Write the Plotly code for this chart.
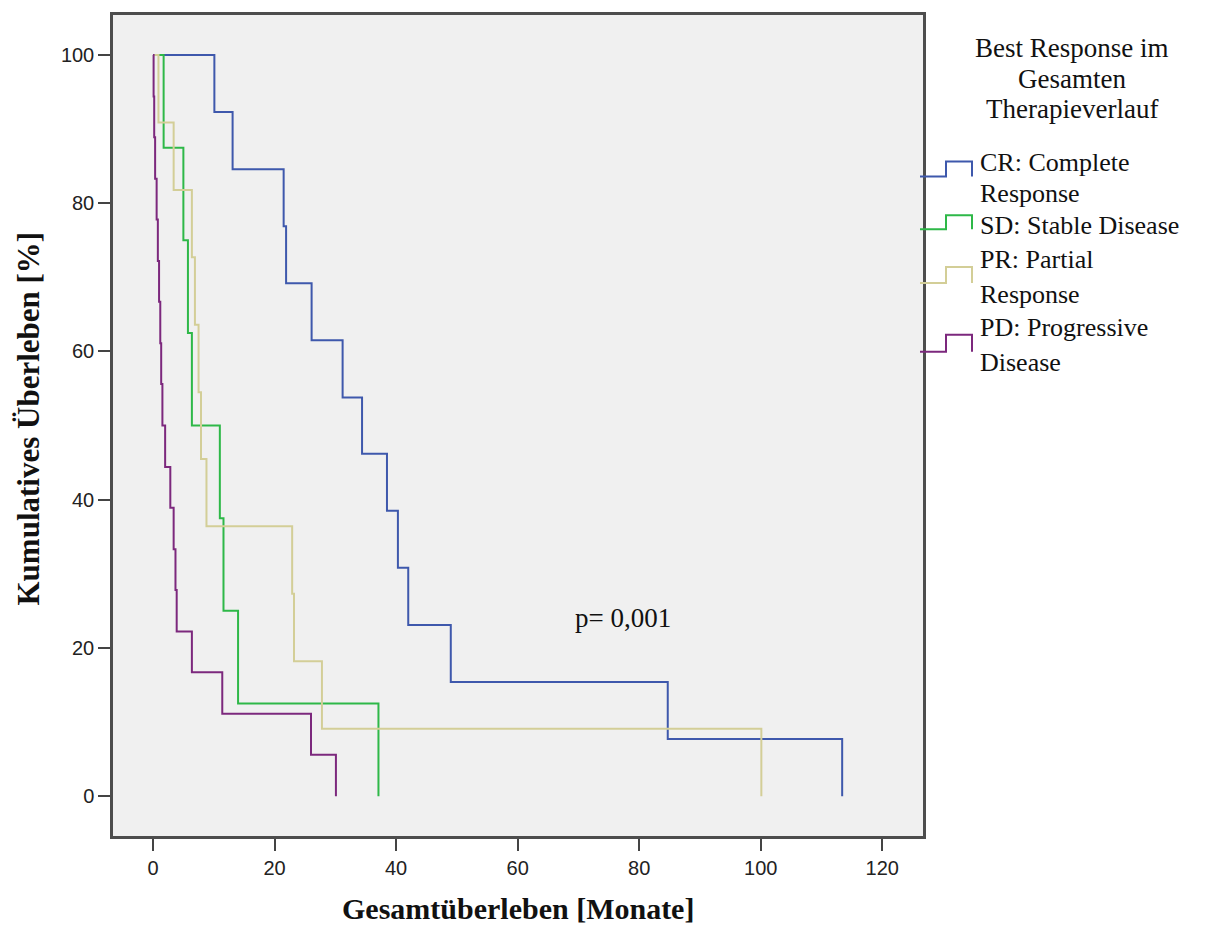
import plotly.graph_objects as go

# ---------------- data ----------------
group_names = ["CR: Complete Response", "SD: Stable Disease",
               "PR: Partial Response", "PD: Progressive Disease"]

cr_months = [10.1, 13.1, 21.5, 21.9, 26.1, 31.2, 34.4, 38.5, 40.3, 42.0, 49.0, 84.7, 113.4]
cr_survival = [92.3, 84.6, 76.9, 69.2, 61.5, 53.8, 46.2, 38.5, 30.8, 23.1, 15.4, 7.7, 0.0]

sd_months = [1.75, 5.0, 5.75, 6.4, 11.0, 11.6, 14.0, 37.1]
sd_survival = [87.5, 75.0, 62.5, 50.0, 37.5, 25.0, 12.5, 0.0]

pr_months = [0.9, 3.4, 6.4, 6.9, 7.5, 7.9, 8.8, 22.9, 23.2, 27.8, 100.1]
pr_survival = [90.9, 81.8, 72.7, 63.6, 54.5, 45.5, 36.4, 27.3, 18.2, 9.1, 0.0]

pd_months = [0.1, 0.2, 0.35, 0.6, 0.8, 1.0, 1.2, 1.35, 1.55, 2.0, 2.85, 3.4, 3.7, 3.9,
             6.4, 11.4, 26.0, 30.1]
pd_survival = [94.4, 88.9, 83.3, 77.8, 72.2, 66.7, 61.1, 55.6, 50.0, 44.4, 38.9, 33.3,
               27.8, 22.2, 16.7, 11.1, 5.6, 0.0]

x_ticks = [0, 20, 40, 60, 80, 100, 120]
y_ticks = [0, 20, 40, 60, 80, 100]

legend_title_lines = ["Best Response im", "Gesamten", "Therapieverlauf"]
legend_label_lines = [["CR: Complete", "Response"], ["SD: Stable Disease"],
                      ["PR: Partial", "Response"], ["PD: Progressive", "Disease"]]
p_text = "p= 0,001"
p_pos = (77.4, 24.0)

colors = ["#3E58AC", "#2EB848", "#D3CE97", "#7C287D"]

# ---------------- layout geometry ----------------
W, H = 1222, 930
ML, MR, MT, MB = 113, 299, 12, 94
PW, PH = W - ML - MR, H - MT - MB


def px(x):
    return (x - ML) / PW


def py(y):
    return (H - MB - y) / PH


serif = "Liberation Serif, Times New Roman, serif"
sans = "Liberation Sans, Arial, sans-serif"

fig = go.Figure()
series = [(cr_months, cr_survival), (sd_months, sd_survival),
          (pr_months, pr_survival), (pd_months, pd_survival)]
for name, (t, s), c in zip(group_names, series, colors):
    fig.add_trace(go.Scatter(
        x=[0] + t, y=[100] + s, mode="lines", name=name,
        line=dict(shape="hv", color=c, width=2), showlegend=False,
    ))

annotations = []
shapes = []

# p-value
annotations.append(dict(x=p_pos[0], y=p_pos[1], xref="x", yref="y", text=p_text,
                        showarrow=False, xanchor="center", yanchor="middle",
                        font=dict(family=serif, size=27, color="#111")))

# axis titles
annotations.append(dict(x=px(518), y=py(909), xref="paper", yref="paper",
                        text="<b>Gesamtüberleben [Monate]</b>", showarrow=False,
                        xanchor="center", yanchor="middle",
                        font=dict(family=serif, size=30, color="#111")))
annotations.append(dict(x=px(29), y=py(417), xref="paper", yref="paper",
                        text="<b>Kumulatives Überleben [%]</b>", showarrow=False, textangle=-90,
                        xanchor="center", yanchor="middle",
                        font=dict(family=serif, size=31, color="#111")))

# legend title
for ln, yy in zip(legend_title_lines, [45, 76, 106]):
    annotations.append(dict(x=px(1072), y=py(yy), xref="paper", yref="paper", text=ln,
                            showarrow=False, xanchor="center", yanchor="middle",
                            font=dict(family=serif, size=27, color="#111")))

# legend items
icon_levels = [(174, 159), (227, 213), (281, 265), (350, 333)]
text_centers = [[160, 191], [223], [257, 293], [326, 361]]
for c, (lo, hi), lines, ys in zip(colors, icon_levels, legend_label_lines, text_centers):
    path = "M {a},{lo} L {b},{lo} L {b},{hi} L {d},{hi} L {d},{lo}".format(
        a=px(920), b=px(946), d=px(972), lo=py(lo), hi=py(hi))
    shapes.append(dict(type="path", path=path, xref="paper", yref="paper",
                       line=dict(color=c, width=2)))
    for ln, yy in zip(lines, ys):
        annotations.append(dict(x=px(978), y=py(yy), xref="paper", yref="paper", text=ln,
                                showarrow=False, xanchor="left", yanchor="middle",
                                font=dict(family=serif, size=26, color="#111")))

axis_common = dict(showgrid=False, zeroline=False, showline=True, mirror=True,
                   linecolor="#4d4d4d", linewidth=2.5, ticks="outside", ticklen=12,
                   tickwidth=2, tickcolor="#444",
                   tickfont=dict(family=sans, size=20, color="#222"))

fig.update_layout(
    width=W, height=H,
    margin=dict(l=ML, r=MR, t=MT, b=MB, pad=0),
    paper_bgcolor="white", plot_bgcolor="#F0F0F0",
    xaxis=dict(range=[-6.58, 126.7], tickvals=x_ticks, **axis_common),
    yaxis=dict(range=[-5.38, 105.4], tickvals=y_ticks, **axis_common),
    annotations=annotations, shapes=shapes, showlegend=False,
)

fig.write_html("out.html")
